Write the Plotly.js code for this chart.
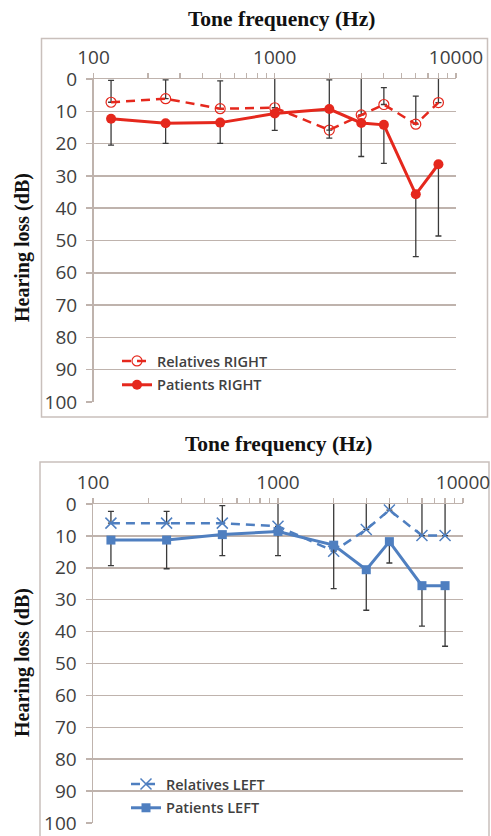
<!DOCTYPE html>
<html>
<head>
<meta charset="utf-8">
<script src="https://cdn.plot.ly/plotly-3.0.1.min.js"></script>
<style>
  html, body { margin: 0; padding: 0; background: #ffffff; }
  #chart { width: 491px; height: 836px; }
</style>
</head>
<body>
<div id="chart"></div>
<script>
// ---------- data ----------
const frequencies = [125, 250, 500, 1000, 2000, 3000, 4000, 6000, 8000];

const relativesRight = [7.2, 6.1, 9.2, 8.9, 15.8, 11.1, 7.9, 14.0, 7.3];
const relativesRightErr = [6.8, 5.8, 8.6, 10, 15.5, 12, 5.2, 8.7, 8];
const patientsRight = [12.3, 13.7, 13.5, 10.7, 9.3, 13.6, 14.2, 35.7, 26.4];
const patientsRightErr = [8.2, 6.2, 6.4, 5.2, 9.0, 10.4, 11.9, 19.3, 22.2];

const relativesLeft = [6.0, 6.0, 6.0, 7.0, 14.8, 8.0, 1.9, 9.9, 9.9];
const relativesLeftErr = [3.7, 3.7, 5.5, 8, 16, 9, 3, 11, 11];
const patientsLeft = [11.3, 11.3, 9.6, 8.6, 12.9, 20.6, 11.8, 25.6, 25.6];
const patientsLeftErr = [8.0, 9.0, 6.6, 7.6, 13.6, 12.7, 6.7, 12.7, 19.0];

const xTickVals = [100,200,300,400,500,600,700,800,900,1000,2000,3000,4000,5000,6000,7000,8000,9000,10000];
const xTickText = ['100','','','','','','','','','1000','','','','','','','','','10000'];
const seriesNames = ['Relatives RIGHT', 'Patients RIGHT', 'Relatives LEFT', 'Patients LEFT'];
const xTitle = 'Tone frequency (Hz)';
const yTitle = 'Hearing loss (dB)';

// ---------- styles ----------
const W = 491, H = 836;
const RED = '#e5281d';
const BLUE = '#4f7fc0';
const GRID = '#bfb3ad';
const ERR = '#3a3a3a';
const TXT = '#404040';
const px = v => v / W;
const py = v => 1 - v / H;

function errUp(arr) {
  return {type: 'data', symmetric: false, array: arr.map(() => 0), arrayminus: arr,
          color: ERR, thickness: 1.3, width: 3};
}
function errDown(arr) {
  return {type: 'data', symmetric: false, array: arr, arrayminus: arr.map(() => 0),
          color: ERR, thickness: 1.3, width: 3};
}

const traces = [
  {x: frequencies, y: relativesRight, name: seriesNames[0], xaxis: 'x', yaxis: 'y', legend: 'legend',
   legendgroup: 'a', mode: 'lines+markers',
   line: {color: RED, width: 2.5, dash: '9px,6px'},
   marker: {symbol: 'circle-open', size: 10, color: RED, line: {width: 1.2, color: RED}},
   error_y: errUp(relativesRightErr)},
  {x: frequencies, y: patientsRight, name: seriesNames[1], xaxis: 'x', yaxis: 'y', legend: 'legend',
   legendgroup: 'b', mode: 'lines+markers',
   line: {color: RED, width: 3},
   marker: {symbol: 'circle', size: 10, color: RED},
   error_y: errDown(patientsRightErr)},
  {x: frequencies, y: relativesLeft, name: seriesNames[2], xaxis: 'x2', yaxis: 'y2', legend: 'legend2',
   legendgroup: 'c', mode: 'lines+markers',
   line: {color: BLUE, width: 2.5, dash: '9px,6px'},
   marker: {symbol: 'x-thin-open', size: 11, color: BLUE, line: {width: 1.5, color: BLUE}},
   error_y: errUp(relativesLeftErr)},
  {x: frequencies, y: patientsLeft, name: seriesNames[3], xaxis: 'x2', yaxis: 'y2', legend: 'legend2',
   legendgroup: 'd', mode: 'lines+markers',
   line: {color: BLUE, width: 3},
   marker: {symbol: 'square', size: 9, color: BLUE},
   error_y: errDown(patientsLeftErr)}
];

const tickFont = {family: 'Open Sans, sans-serif', size: 19, color: TXT};

function xAxis(domain, anchor) {
  return {
    type: 'log', domain: domain, anchor: anchor, side: 'top', range: [2, 4],
    tickmode: 'array', tickvals: xTickVals, ticktext: xTickText,
    ticks: 'outside', ticklen: 5, tickwidth: 1.2, tickcolor: GRID,
    showline: true, linecolor: GRID, linewidth: 1.5,
    showgrid: false, zeroline: false, tickfont: tickFont, ticklabelstandoff: 1,
    ticklabeloverflow: 'allow'
  };
}
function yAxis(domain, anchor) {
  return {
    domain: domain, anchor: anchor, range: [100, 0],
    tickmode: 'linear', tick0: 0, dtick: 10,
    ticks: 'outside', ticklen: 6, tickwidth: 1.5, tickcolor: GRID,
    showline: true, linecolor: GRID, linewidth: 1.5,
    showgrid: true, gridcolor: GRID, gridwidth: 1.5, zeroline: false,
    tickfont: tickFont, ticklabelstandoff: 5, ticklabeloverflow: 'allow'
  };
}

const legendBase = {
  bgcolor: 'rgba(0,0,0,0)', borderwidth: 0, xanchor: 'left', yanchor: 'top',
  font: {family: 'Open Sans, sans-serif', size: 14.5, color: TXT, weight: 600},
  traceorder: 'grouped', tracegroupgap: 2, itemwidth: 30
};

const xTitleFont = {family: 'Liberation Serif, serif', size: 21.5, color: '#111111', weight: 'bold'};
const yTitleFont = {family: 'Liberation Serif, serif', size: 20, color: '#111111', weight: 'bold'};

const layout = {
  width: W, height: H,
  margin: {l: 0, r: 0, t: 0, b: 0},
  paper_bgcolor: '#ffffff', plot_bgcolor: '#ffffff',
  showlegend: true,
  xaxis: xAxis([px(93.5), px(456)], 'y'),
  yaxis: yAxis([py(402), py(79)], 'x'),
  xaxis2: xAxis([px(93), px(463)], 'y2'),
  yaxis2: yAxis([py(823), py(504)], 'x2'),
  legend: Object.assign({}, legendBase, {x: px(117), y: py(345)}),
  legend2: Object.assign({}, legendBase, {x: px(126), y: py(768)}),
  shapes: [
    {type: 'rect', xref: 'paper', yref: 'paper', x0: px(41.5), x1: px(487.5), y0: py(417), y1: py(38.5),
     line: {color: '#c9c0bc', width: 1.5}, layer: 'below'},
    {type: 'rect', xref: 'paper', yref: 'paper', x0: px(40), x1: px(489), y0: py(845), y1: py(462),
     line: {color: '#c9c0bc', width: 1.5}, layer: 'below'}
  ],
  annotations: [
    {text: '<b>' + xTitle + '</b>', xref: 'paper', yref: 'paper', x: px(282), y: py(19),
     xanchor: 'center', yanchor: 'middle', showarrow: false, font: xTitleFont},
    {text: '<b>' + xTitle + '</b>', xref: 'paper', yref: 'paper', x: px(278.5), y: py(444),
     xanchor: 'center', yanchor: 'middle', showarrow: false, font: xTitleFont},
    {text: '<b>' + yTitle + '</b>', xref: 'paper', yref: 'paper', x: px(22), y: py(248),
     xanchor: 'center', yanchor: 'middle', textangle: -90, showarrow: false, font: yTitleFont},
    {text: '<b>' + yTitle + '</b>', xref: 'paper', yref: 'paper', x: px(22), y: py(663),
     xanchor: 'center', yanchor: 'middle', textangle: -90, showarrow: false, font: yTitleFont}
  ]
};

Plotly.newPlot('chart', traces, layout, {displayModeBar: false, staticPlot: true});
</script>
</body>
</html>
